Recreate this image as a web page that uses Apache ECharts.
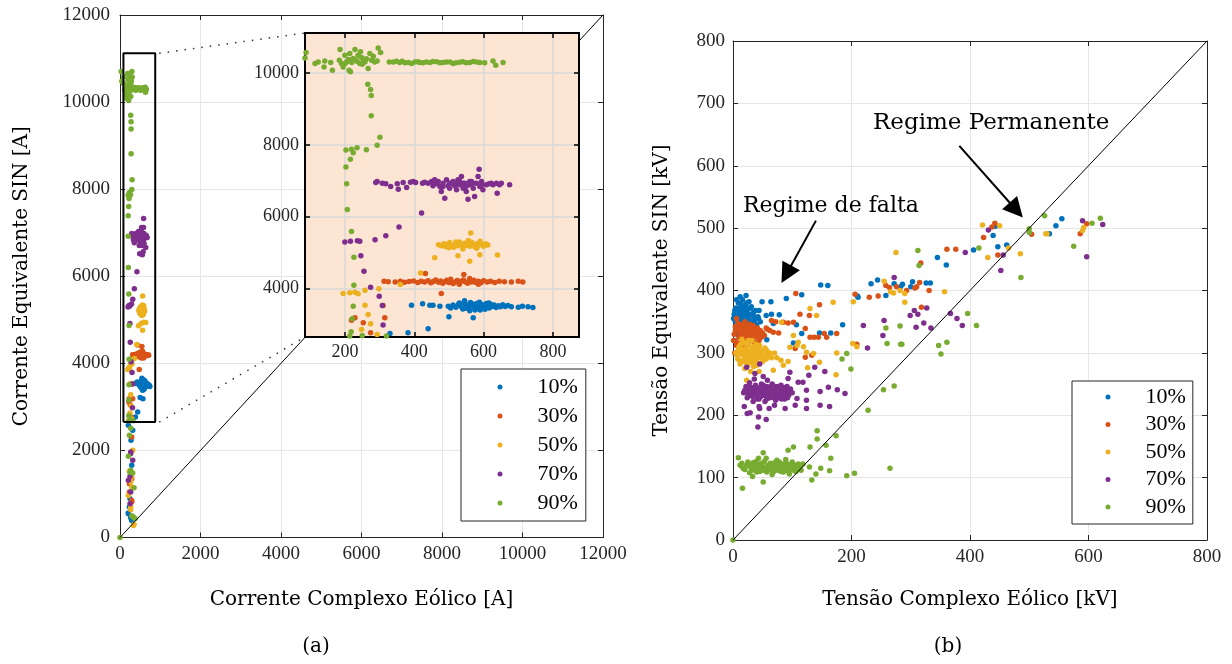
<!DOCTYPE html>
<html>
<head>
<meta charset="utf-8">
<script src="https://cdn.jsdelivr.net/npm/echarts@6/dist/echarts.min.js"></script>
<style>
html, body { margin: 0; padding: 0; background: #fff; }
#main { width: 1232px; height: 664px; }
</style>
</head>
<body>
<div id="main"></div>
<script>
// Corrente (a) e Tensão (b): SIN x Complexo Eólico
var chart = echarts.init(document.getElementById('main'));

var nomes = ['10%', '30%', '50%', '70%', '90%'];
var cores = ['#0072BD', '#D95319', '#EDB120', '#7E2F8E', '#77AC30'];

// ---------- (a) corrente [A] : [complexo eólico, equivalente SIN] ----------
var corr10 = [
    [498,3510],[505,3460],[512,3540],[520,3480],[528,3560],[535,3500],[540,3430],[546,3590],[552,3520],[558,3470],
    [562,3610],[566,3540],[572,3500],[576,3440],[580,3580],[585,3520],[588,3620],[592,3470],[596,3550],[600,3500],
    [604,3420],[608,3580],[612,3510],[616,3460],[620,3560],[625,3500],[630,3540],[636,3470],[642,3520],[648,3490],
    [655,3550],[662,3500],[670,3530],[680,3490],[700,3480],[712,3510],[728,3490],[742,3470],[560,3380],[545,3660],
    [575,3400],[530,3600],[590,3400],[615,3600],[550,3450],[570,3560],
    [392,3537],[424,3574],[445,3537],[454,3537],[474,3509],[500,3213],[570,3185],[440,2880],[382,2768],[330,2750],
    [208,2579],[316,2464],[274,2234],[291,1658],[249,891],[233,698],[208,560],[208,545],[266,452],[291,391]
];
var corr30 = [
    [313,4200],[325,4190],[345,4180],[360,4205],[372,4175],[385,4195],[398,4210],[410,4170],[420,4200],[430,4180],
    [440,4220],[448,4160],[455,4195],[462,4240],[470,4175],[476,4210],[482,4150],[488,4190],[494,4230],[500,4170],
    [506,4205],[512,4140],[518,4185],[524,4225],[530,4165],[536,4200],[542,4240],[548,4180],[554,4150],[560,4210],
    [566,4185],[572,4230],[578,4170],[585,4200],[592,4160],[600,4215],[610,4185],[620,4200],[632,4170],[645,4205],
    [660,4190],[680,4180],[700,4200],[713,4185],[543,4389],[530,4120],[585,4120],[505,4260],[560,4280],
    [478,3861],[432,4422],[219,3120],[229,3185],[253,3050],[274,2770],[315,3185],[310,3530],
    [291,2310],[291,1350],[233,1236],[233,1043],[291,852],[291,813]
];
var corr50 = [
    [470,5220],[478,5190],[485,5250],[490,5170],[496,5230],[502,5280],[508,5200],[514,5150],[520,5240],[525,5190],
    [530,5300],[535,5220],[540,5160],[545,5260],[550,5200],[555,5240],[560,5180],[565,5290],[570,5220],[575,5160],
    [580,5250],[585,5200],[590,5320],[595,5230],[600,5180],[606,5250],[612,5210],[556,5340],[540,5100],[520,5300],
    [500,5140],[580,5120],
    [563,5546],[589,4944],[560,4759],[526,4917],[459,4861],[640,4935],[418,4435],[360,4111],[298,3991],[258,3954],
    [195,3861],[214,3880],[229,3898],[238,3852],[258,3537],[267,3278],[274,3018],[293,2722],[248,2861],
    [316,2004],[233,1520],[291,1389],[266,1274],[291,1159],[208,967],[266,698],[266,637],[349,299],[332,276]
];
var corr70 = [
    [289,6954],[293,6982],[308,6935],[318,6917],[332,6843],[351,6917],[354,6769],[368,6954],[378,6815],[389,6963],
    [397,6982],[404,6954],[424,6935],[430,6963],[440,6935],[450,6982],[454,6861],[459,7028],[464,6917],[469,6982],
    [474,6843],[478,6704],[483,6935],[488,6519],[493,7028],[498,6861],[502,6797],[507,6935],[512,6982],[517,6861],
    [522,6750],[526,7028],[531,6889],[536,7121],[541,6797],[546,6935],[550,6704],[555,6491],[560,6889],[565,6982],
    [570,6797],[574,6565],[579,6935],[584,7121],[587,7324],[589,6843],[594,6982],[598,6750],[608,6889],[616,6917],
    [622,6935],[627,6889],[637,6935],[639,6658],[646,6889],[651,6935],[675,6889],
    [502,6935],[522,6889],[541,6935],[560,6982],[483,6843],[570,6935],[530,7000],[550,6850],[515,6920],[595,6900],
    [421,6102],[356,5713],[318,5472],[287,5361],[243,5315],[236,5333],[216,5315],[200,5296],[246,4917],[255,4482],
    [274,4037],[299,3787],[308,3528],[310,2981],
    [266,1965],[316,1773],[249,1405],[266,1043],[249,775],[208,1313],[266,1927]
];
var corr90 = [
    [88,10575],[85,10426],[114,10269],[123,10315],[140,10176],[142,10343],[159,10297],[164,10084],[186,10658],[184,10362],
    [190,10269],[195,10176],[200,10500],[205,10315],[214,10547],[212,10084],[216,10037],[224,10408],[229,10658],[232,10362],
    [238,10500],[243,10269],[248,10436],[253,10380],[258,10315],[267,10130],[272,10547],[277,10362],[282,10473],[286,10315],
    [293,10343],[296,10704],[303,10575],[328,10315],[349,10334],[358,10297],[373,10288],[392,10269],[402,10315],[416,10297],
    [435,10315],[454,10325],[474,10288],[493,10315],[512,10269],[531,10306],[550,10288],[570,10325],[589,10297],[603,10288],
    [627,10343],[635,10223],[656,10297],
    [200,10260],[210,10380],[220,10300],[235,10330],[250,10250],[262,10400],[245,10600],[340,10310],[365,10330],[383,10300],
    [410,10320],[425,10290],[445,10300],[465,10320],[483,10300],[503,10310],[520,10290],[540,10320],[560,10300],[580,10310],
    [30,10700],[45,10480],
    [266,9695],[274,9548],[276,9381],[276,8815],[301,8214],[293,7992],[262,7870],[235,7926],[219,7880],[224,7787],
    [203,7861],[216,7603],[203,7389],[205,6917],[207,6203],[219,5592],[226,4870],[226,4092],[224,3508],[221,3158],
    [218,2797],[214,2680],[250,2690],[320,2680],
    [266,2510],[233,2349],[208,1865],[266,1543],[249,1500],[316,1480],[349,1144],[291,500],[330,470],[374,437],[0,0]
];

// ---------- (b) tensão [kV] ----------
var tens10 = [
    [2,362],[4,350],[5,372],[6,343],[8,358],[9,380],[10,366],[11,348],[12,355],[13,373],[14,340],[15,362],[16,385],
    [17,352],[18,368],[19,345],[20,358],[21,376],[22,350],[23,364],[24,340],[25,370],[26,355],[27,382],[28,346],
    [29,362],[30,352],[31,374],[32,343],[34,360],[36,352],[38,368],[40,345],[42,358],[7,330],[3,320],[12,390],[22,392],
    [1,355],[3,368],[6,385],[9,345],[11,362],[13,352],[16,370],[19,358],[21,342],[23,380],[26,362],[29,372],
    [33,350],[35,366],[37,340],[39,355],[44,368],[46,350],[5,340],[14,378],
    [49,382],[64,382],[90,387],[116,393],[56,360],[65,362],[78,361],[68,347],[43,355],[107,345],[116,331],[146,332],
    [165,332],[185,345],[102,316],[57,321],[210,391],[148,409],[160,408],[211,389],[258,392],[233,411],[244,417],
    [272,411],[283,406],[286,410],[300,406],[303,414],[326,412],[333,412],[345,453],[360,441],[406,465],[443,503],
    [439,488],[447,470],[462,473],[534,491],[545,504],[555,515]
];
var tens30 = [
    [2,330],[4,342],[5,318],[7,335],[8,348],[10,325],[11,340],[12,315],[14,332],[15,345],[16,322],[18,338],[19,328],
    [20,350],[21,316],[22,335],[24,325],[25,342],[26,312],[27,332],[28,346],[30,322],[31,338],[32,330],[34,344],
    [35,318],[37,334],[39,326],[41,340],[43,330],[46,336],[48,325],[3,300],[10,305],[18,308],[6,355],
    [1,320],[4,335],[6,312],[9,340],[12,328],[13,345],[15,318],[17,330],[20,325],[23,342],[25,315],[27,338],
    [29,328],[33,322],[36,340],[38,316],[40,332],[44,320],[50,332],[53,328],[56,340],
    [65,352],[72,350],[85,349],[93,348],[102,349],[113,362],[129,360],[146,377],[106,395],[122,339],[130,325],
    [137,325],[144,325],[154,331],[158,325],[175,331],[122,293],[133,296],[105,307],[68,333],[77,332],[58,338],
    [62,336],[206,394],[209,314],[230,389],[245,391],[258,408],[264,405],[276,406],[293,400],[307,404],[310,406],
    [315,413],[331,400],[317,444],[361,466],[376,466],[318,373],[423,485],[437,502],[442,508],[447,457],[504,490],
    [586,491],[597,507]
];
var tens50 = [
    [5,300],[8,290],[10,310],[12,282],[14,298],[16,306],[18,288],[20,316],[22,294],[24,302],[25,280],[26,312],
    [28,296],[30,286],[31,304],[32,294],[34,310],[35,278],[36,300],[38,290],[40,306],[41,284],[43,298],[45,312],
    [46,292],[48,302],[50,286],[52,296],[54,308],[56,290],[58,300],[60,294],[20,275],[32,320],[44,270],[15,322],
    [7,296],[9,305],[11,288],[13,314],[17,296],[19,302],[21,285],[23,308],[27,290],[29,300],[33,284],[37,296],
    [39,314],[42,292],[47,304],[49,296],[53,290],[57,304],[62,300],[65,292],[40,280],[26,320],
    [82,349],[102,328],[110,317],[96,309],[108,312],[119,310],[130,371],[141,360],[169,381],[124,301],[136,299],
    [146,285],[175,300],[202,315],[209,310],[174,265],[126,276],[81,288],[85,280],[93,286],[74,292],[70,300],
    [23,256],[68,272],[30,270],[203,382],[255,415],[266,398],[271,396],[282,400],[290,381],[290,395],[357,398],
    [275,461],[421,505],[450,504],[430,453],[465,468],[485,459],[530,491],[590,496],[592,501],[528,491]
];
var tens70 = [
    [18,236],[22,246],[24,228],[26,240],[28,252],[30,232],[32,244],[34,222],[36,238],[38,248],[40,230],[42,242],
    [44,226],[46,236],[48,250],[50,232],[52,240],[54,222],[56,246],[58,234],[60,242],[62,228],[64,238],[66,250],
    [68,230],[70,240],[72,224],[74,236],[76,246],[78,232],[80,240],[82,226],[84,238],[86,244],[88,232],[90,240],
    [92,228],[95,238],[58,256],[44,214],[70,216],[36,258],
    [20,240],[25,234],[27,246],[31,238],[33,230],[35,244],[39,236],[41,226],[45,244],[47,230],[49,240],[51,248],
    [53,232],[55,238],[57,226],[59,244],[61,236],[63,246],[65,232],[67,240],[69,228],[71,246],[73,234],[75,240],
    [77,228],[79,236],[81,248],[83,232],[85,240],[87,226],[89,236],[91,246],[94,232],[97,242],[100,236],
    [23,277],[37,267],[51,262],[45,282],[96,269],[93,259],[110,253],[118,253],[128,264],[138,277],[155,270],
    [161,245],[124,240],[147,238],[189,235],[176,241],[124,224],[108,227],[105,216],[124,211],[147,216],[163,214],
    [88,211],[61,211],[45,211],[19,214],[29,204],[56,193],[43,197],[42,181],[24,203],
    [272,421],[306,368],[299,360],[327,372],[312,362],[322,348],[367,363],[378,355],[387,344],[220,344],[255,352],
    [309,341],[334,340],[253,328],[227,308],[392,461],[431,497],[452,432],[456,457],[590,512],[624,506],[597,454]
];
var tens90 = [
    [9,132],[15,123],[17,115],[23,120],[29,117],[32,112],[34,124],[37,117],[40,109],[43,120],[46,115],[48,123],
    [51,112],[54,117],[57,109],[60,120],[62,115],[65,112],[67,118],[70,124],[73,117],[76,112],[79,120],[82,115],
    [85,109],[88,118],[91,112],[93,120],[96,115],[99,117],[102,112],[104,120],[107,117],[110,122],[113,116],
    [12,120],[20,113],[25,125],[31,121],[36,113],[39,126],[42,114],[45,110],[49,118],[53,126],[56,114],[59,116],
    [63,123],[66,116],[69,110],[72,121],[75,115],[78,125],[81,110],[84,122],[87,114],[90,123],[94,110],[97,121],
    [100,125],[103,116],[106,110],[109,114],[112,120],[115,112],[118,122],
    [89,129],[43,131],[51,140],[93,144],[102,149],[33,102],[51,93],[16,83],[56,131],[74,128],[28,108],[66,105],[95,106],
    [129,117],[133,96],[140,106],[148,115],[163,111],[165,131],[157,152],[142,162],[142,175],[130,149],[174,167],
    [192,103],[205,107],[265,115],[228,208],[199,274],[254,241],[272,247],[184,290],[192,299],[258,340],[282,343],
    [260,315],[285,314],[283,314],[347,312],[361,317],[351,298],[396,363],[411,344],[312,464],[314,440],[415,468],
    [486,421],[500,493],[500,499],[526,520],[575,471],[606,508],[620,516],[0,0]
];

// região ampliada (inset) em (a)
var zoomX = [85, 875];
var zoomY = [2650, 11120];

// setas de anotação em (b): [início, fim]
var setaPerm = [[382, 632], [478, 529]];
var setaFalta = [[140, 512], [90, 426]];

var fNum = 'Liberation Serif';
var fTxt = 'DejaVu Serif';
var corEixo = '#262626';
var corGrade = '#e6e6e6';

function eixo(gi, pos, min, max, intv, principal, margem) {
    return {
        type: 'value', gridIndex: gi, position: pos, min: min, max: max, interval: intv,
        nameMoveOverlap: false,
        axisLine: { show: true, onZero: false, lineStyle: { color: corEixo, width: 1 } },
        axisTick: { show: true, inside: true, length: 5, lineStyle: { color: corEixo } },
        axisLabel: {
            show: principal, color: corEixo, fontFamily: fNum, fontSize: 19, margin: margem,
            formatter: function (v) { return String(v); }
        },
        splitLine: { show: principal, lineStyle: { color: corGrade, width: 1 } }
    };
}

function eixoZoom(pos, min, max, passo, principal) {
    return {
        type: 'value', gridIndex: 1, position: pos, min: min, max: max, z: 11,
        axisLine: { show: true, onZero: false, lineStyle: { color: '#000', width: 2 } },
        axisTick: { show: true, inside: true, length: 5, lineStyle: { color: '#000', width: 1.5 } },
        axisLabel: {
            show: principal, color: corEixo, fontFamily: fNum, fontSize: 18, margin: 6,
            formatter: function (v) { return v % passo === 0 ? String(v) : ''; }
        },
        splitLine: { show: principal, lineStyle: { color: '#d8d8d8', width: 1.5 } }
    };
}

var xA = [
    eixo(0, 'bottom', 0, 12000, 2000, true, 7),
    eixo(0, 'top', 0, 12000, 2000, false, 0),
    eixoZoom('bottom', zoomX[0], zoomX[1], 200, true),
    eixoZoom('top', zoomX[0], zoomX[1], 200, false),
    eixo(2, 'bottom', 0, 800, 200, true, 8),
    eixo(2, 'top', 0, 800, 200, false, 0)
];
var yA = [
    eixo(0, 'left', 0, 12000, 2000, true, 10),
    eixo(0, 'right', 0, 12000, 2000, false, 0),
    eixoZoom('left', zoomY[0], zoomY[1], 2000, true),
    eixoZoom('right', zoomY[0], zoomY[1], 2000, false),
    eixo(2, 'left', 0, 800, 100, true, 8),
    eixo(2, 'right', 0, 800, 100, false, 0)
];

var nameStyle = { fontFamily: fTxt, fontSize: 20, color: '#000' };
xA[0].name = 'Corrente Complexo Eólico [A]';
xA[0].nameLocation = 'middle'; xA[0].nameGap = 52; xA[0].nameTextStyle = nameStyle;
yA[0].name = 'Corrente Equivalente SIN [A]';
yA[0].nameLocation = 'middle'; yA[0].nameGap = 88; yA[0].nameTextStyle = nameStyle;
xA[4].name = 'Tensão Complexo Eólico [kV]';
xA[4].nameLocation = 'middle'; xA[4].nameGap = 50; xA[4].nameTextStyle = nameStyle;
yA[4].name = 'Tensão Equivalente SIN [kV]';
yA[4].nameLocation = 'middle'; yA[4].nameGap = 61; yA[4].nameTextStyle = nameStyle;

var series = [];
var corr = [corr10, corr30, corr50, corr70, corr90];
var tens = [tens10, tens30, tens50, tens70, tens90];
for (var i = 0; i < 5; i++) {
    series.push({
        name: nomes[i], type: 'scatter', xAxisIndex: 0, yAxisIndex: 0,
        data: corr[i], symbolSize: 5.5, itemStyle: { color: cores[i], opacity: 1 }
    });
}
for (var i = 0; i < 5; i++) {
    series.push({
        name: nomes[i], type: 'scatter', xAxisIndex: 2, yAxisIndex: 2, z: 12, clip: true,
        data: corr[i], symbolSize: 5.5, itemStyle: { color: cores[i], opacity: 1 }
    });
}
for (var i = 0; i < 5; i++) {
    series.push({
        name: nomes[i], type: 'scatter', xAxisIndex: 4, yAxisIndex: 4,
        data: tens[i], symbolSize: 5.5, itemStyle: { color: cores[i], opacity: 1 }
    });
}
// diagonais y = x
series.push({
    type: 'line', xAxisIndex: 0, yAxisIndex: 0, data: [[0, 0], [12000, 12000]], z: 3,
    symbol: 'none', silent: true, lineStyle: { color: '#000', width: 1 }
});
// retângulo da região ampliada
series.push({
    type: 'line', xAxisIndex: 0, yAxisIndex: 0, z: 4, symbol: 'none', silent: true,
    data: [[zoomX[0], zoomY[0]], [zoomX[1], zoomY[0]], [zoomX[1], zoomY[1]], [zoomX[0], zoomY[1]], [zoomX[0], zoomY[0]]],
    lineStyle: { color: '#000', width: 2 }
});
series.push({
    type: 'line', xAxisIndex: 4, yAxisIndex: 4, data: [[0, 0], [800, 800]], z: 3,
    symbol: 'none', silent: true, lineStyle: { color: '#000', width: 1 },
    markLine: {
        silent: true, animation: false,
        symbol: ['none', 'triangle'], symbolSize: 20,
        label: { show: false },
        lineStyle: { color: '#000', width: 2, type: 'solid' },
        data: [
            [{ coord: setaPerm[0] }, { coord: setaPerm[1] }],
            [{ coord: setaFalta[0] }, { coord: setaFalta[1] }]
        ]
    }
});

function legenda(left, top, pad, gap) {
    return {
        data: nomes, orient: 'vertical', left: left, top: top, icon: 'circle',
        itemWidth: 5, itemHeight: 5, itemGap: gap, selectedMode: false,
        padding: pad, backgroundColor: '#fff', borderColor: corEixo, borderWidth: 1, borderRadius: 0,
        textStyle: { fontFamily: fNum, fontSize: 22, lineHeight: 22, color: '#000', padding: [0, 0, 0, 30] }
    };
}

chart.setOption({
    animation: false,
    backgroundColor: '#fff',
    grid: [
        { left: 120, top: 15, right: 629, bottom: 126.5, outerBoundsMode: 'none' },
        { left: 305, top: 33, width: 274, height: 304, z: 10, show: true,
          backgroundColor: '#fde5d4', borderColor: '#000', borderWidth: 2, outerBoundsMode: 'none' },
        { left: 733, top: 41, right: 25, bottom: 124, outerBoundsMode: 'none' }
    ],
    xAxis: xA,
    yAxis: yA,
    legend: [
        legenda(461, 369, [7, 8, 7, 36.5], 7),
        legenda(1072, 381, [5, 7, 6, 33.5], 5.5)
    ],
    series: series
});

// linhas pontilhadas ligando o retângulo ao inset + textos
var a1 = chart.convertToPixel({ xAxisIndex: 0, yAxisIndex: 0 }, [zoomX[1], zoomY[1]]);
var b1 = chart.convertToPixel({ xAxisIndex: 2, yAxisIndex: 2 }, [zoomX[0], zoomY[1]]);
var a2 = chart.convertToPixel({ xAxisIndex: 0, yAxisIndex: 0 }, [zoomX[1], zoomY[0]]);
var b2 = chart.convertToPixel({ xAxisIndex: 2, yAxisIndex: 2 }, [zoomX[0], zoomY[0]]);
var pont = { stroke: '#333', lineWidth: 1.5, lineDash: [1.5, 7] };
var txt = function (s, x, y, size, align) {
    return { type: 'text', x: x, y: y, z: 20,
        style: { text: s, fontFamily: fTxt, fontSize: size, fill: '#000', align: align, verticalAlign: 'middle' } };
};
chart.setOption({
    graphic: [
        { type: 'line', z: 5, shape: { x1: a1[0] + 4, y1: a1[1], x2: b1[0], y2: b1[1] }, style: pont },
        { type: 'line', z: 5, shape: { x1: a2[0] + 4, y1: a2[1], x2: b2[0], y2: b2[1] }, style: pont },
        txt('(a)', 316, 647, 20, 'center'),
        txt('(b)', 948, 647, 20, 'center'),
        txt('Regime Permanente', 873, 123, 23, 'left'),
        txt('Regime de falta', 743, 206, 22, 'left')
    ]
});
</script>
</body>
</html>
